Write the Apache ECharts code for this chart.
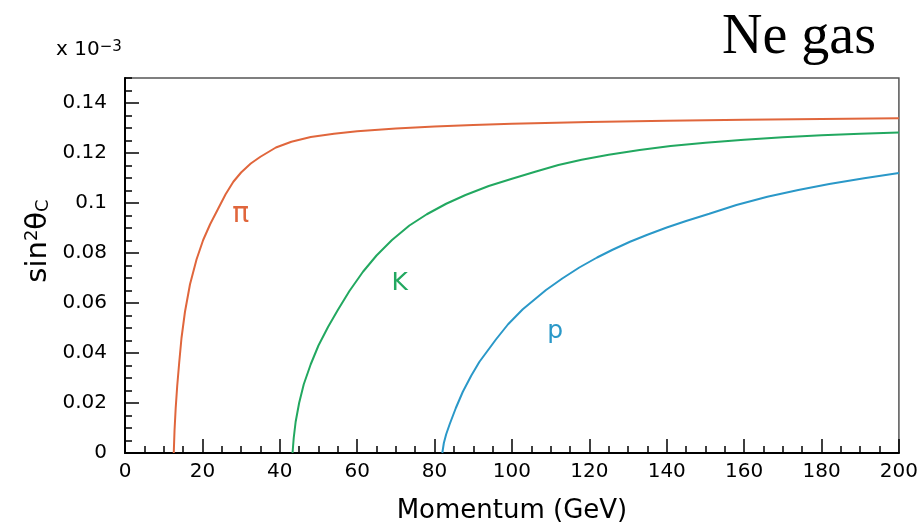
<!DOCTYPE html>
<html>
<head>
    <meta charset="utf-8">
    <title>Ne gas</title>
    <style type="text/css">
        html,
        body {
            margin: 0;
            padding: 0;
            background: #fff;
        }

        #main {
            width: 921px;
            height: 530px;
        }
    </style>
</head>

<body>
    <div id="main"></div>
    <script src="https://cdn.jsdelivr.net/npm/echarts@6/dist/echarts.min.js"></script>
    <script type="text/javascript">
        // momentum (GeV) -> sin^2(theta_C) in units of 1e-3
        var piCurve = [
            [12.6, 0], [12.8, 0.009], [13.1, 0.018], [13.5, 0.027], [14, 0.036],
            [14.6, 0.046], [15.5, 0.0565], [16.8, 0.0675], [18.5, 0.0775], [20.2, 0.0852],
            [22, 0.0915], [24, 0.0975], [26, 0.1035], [28, 0.1085], [30, 0.1122],
            [32.5, 0.1158], [35, 0.1185], [39, 0.1222], [43, 0.1245], [48, 0.1264],
            [54, 0.1277], [60, 0.1287], [70, 0.1298], [80, 0.1306], [90, 0.1312],
            [100, 0.1317], [120, 0.1324], [140, 0.1329], [160, 0.1333], [180, 0.1336],
            [200, 0.1339]
        ];
        var kCurve = [
            [43.3, 0], [43.6, 0.006], [44.1, 0.0125], [45, 0.02], [46.2, 0.0275],
            [48, 0.0355], [50, 0.043], [52.5, 0.0505], [55, 0.0572], [58, 0.0648],
            [61.5, 0.0725], [65, 0.079], [69, 0.0852], [73.5, 0.091], [78, 0.0955],
            [83, 0.0997], [88, 0.1032], [94, 0.1068], [100, 0.1097], [106, 0.1125],
            [112, 0.1152], [118, 0.1173], [125, 0.1193], [133, 0.1212], [141, 0.1228],
            [150, 0.1241], [160, 0.1253], [170, 0.1263], [180, 0.1271], [190, 0.1277],
            [200, 0.1282]
        ];
        var pCurve = [
            [82, 0], [82.4, 0.004], [83, 0.0075], [83.9, 0.0115], [85.5, 0.018],
            [87.3, 0.0245], [89.5, 0.031], [91.6, 0.0365], [95.9, 0.0455], [99, 0.0515],
            [102.8, 0.0575], [108.8, 0.0652], [113, 0.0698], [117.4, 0.0742], [122, 0.0782],
            [126, 0.0813], [130.5, 0.0845], [135, 0.0873], [140, 0.0902], [145, 0.0928],
            [151, 0.0957], [158, 0.0992], [166, 0.1025], [174, 0.1052], [182, 0.1076],
            [191, 0.1099], [200, 0.112]
        ];
        var curveNames = ['π', 'K', 'p'];
        var curveColors = ['#e0663c', '#22a860', '#2a98c8'];
        // where the particle names sit, in data coordinates
        var namePos = [[29.9, 0.0955], [71, 0.068], [111.2, 0.0488]];

        var font = 'DejaVu Sans';
        var myChart = echarts.init(document.getElementById('main'));

        function curve(i, data) {
            return {
                name: curveNames[i],
                type: 'line',
                data: data,
                showSymbol: false,
                lineStyle: { color: curveColors[i], width: 2 },
                markPoint: {
                    symbol: 'circle',
                    symbolSize: 0,
                    label: {
                        show: true,
                        formatter: curveNames[i],
                        color: curveColors[i],
                        fontFamily: font,
                        fontSize: i === 0 ? 28 : 25
                    },
                    data: [{ coord: namePos[i] }]
                }
            };
        }

        myChart.setOption({
            animation: false,
            grid: {
                left: 125,
                right: 22,
                top: 78,
                bottom: 77,
                show: true,
                borderColor: '#555',
                borderWidth: 1.5
            },
            graphic: [{
                type: 'text',
                left: 56,
                top: 40,
                style: {
                    text: '{a|x 10}{b|−3}',
                    rich: {
                        a: { fontFamily: font, fontSize: 20, fill: '#000', verticalAlign: 'bottom' },
                        b: { fontFamily: font, fontSize: 15, fill: '#000', verticalAlign: 'top' }
                    }
                }
            }, {
                type: 'text',
                left: 722,
                top: 10,
                style: {
                    text: 'Ne gas',
                    fontFamily: 'Liberation Serif',
                    fontSize: 56,
                    fill: '#000'
                }
            }, {
                // y axis title, rotated
                type: 'text',
                x: 38,
                y: 241,
                rotation: Math.PI / 2,
                style: {
                    text: '{t|sin}{s|2}{t|θ}{b|C}',
                    align: 'center',
                    verticalAlign: 'middle',
                    rich: {
                        t: { fontFamily: font, fontSize: 29, fill: '#000' },
                        s: { fontFamily: font, fontSize: 18, fill: '#000', verticalAlign: 'top' },
                        b: { fontFamily: font, fontSize: 18, fill: '#000', verticalAlign: 'bottom' }
                    }
                }
            }],
            xAxis: {
                type: 'value',
                min: 0,
                max: 200,
                interval: 20,
                name: 'Momentum (GeV)',
                nameLocation: 'middle',
                nameGap: 45,
                nameTextStyle: { fontFamily: font, fontSize: 26, color: '#000' },
                axisLine: { lineStyle: { color: '#000', width: 2 } },
                axisTick: { inside: true, length: 14, lineStyle: { color: '#000', width: 1.5 } },
                minorTick: { show: true, splitNumber: 4, length: 7, lineStyle: { color: '#000', width: 1.5 } },
                axisLabel: { fontFamily: font, fontSize: 20, color: '#000', margin: 9 },
                splitLine: { show: false }
            },
            yAxis: [{
                type: 'value',
                min: 0,
                max: 0.15,
                interval: 0.02,
                axisLine: { show: true, lineStyle: { color: '#000', width: 2 } },
                axisTick: { inside: true, length: 14, lineStyle: { color: '#000', width: 1.5 } },
                axisLabel: { fontFamily: font, fontSize: 20, color: '#000', margin: 18, showMaxLabel: false },
                splitLine: { show: false }
            }, {
                type: 'value',
                min: 0,
                max: 0.15,
                interval: 0.005,
                position: 'left',
                axisLine: { show: false },
                axisTick: { inside: true, length: 7, lineStyle: { color: '#000', width: 1.5 } },
                axisLabel: { show: false },
                splitLine: { show: false }
            }],
            series: [curve(0, piCurve), curve(1, kCurve), curve(2, pCurve)]
        });
    </script>
</body>

</html>
